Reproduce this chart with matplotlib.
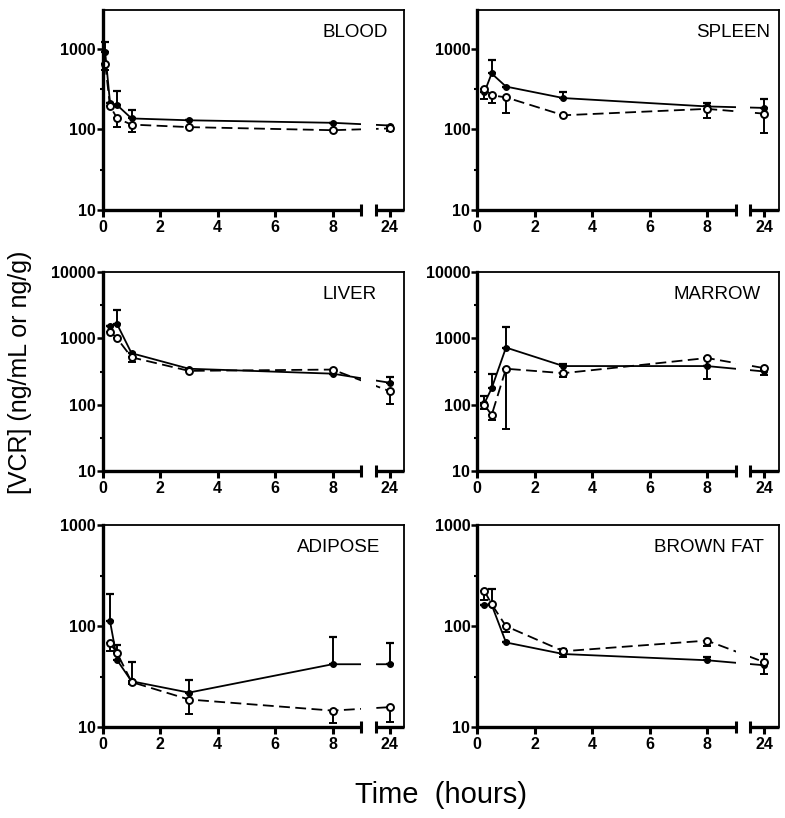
import numpy as np
import matplotlib
matplotlib.use('Agg')
import matplotlib.pyplot as plt
from matplotlib.ticker import FixedLocator, NullFormatter, FuncFormatter
import matplotlib.transforms as mtransforms

plt.rcParams['font.family'] = ['Liberation Sans', 'DejaVu Sans']

# sampling times (hours)
t_blood = [0.083, 0.25, 0.5, 1, 3, 8, 24]
t_tissue = [0.25, 0.5, 1, 3, 8, 24]

# filled circles (solid line) with upper SD limit, open circles (dashed) with lower SD limit
blood_solid = [900, 215, 200, 137, 130, 121, 112]
blood_solid_hi = [1200, 215, 300, 173, 130, 121, 112]
blood_open = [650, 195, 137, 115, 107, 98, 103]
blood_open_lo = [540, 195, 108, 92, 107, 98, 97]

spleen_solid = [290, 494, 340, 245, 193, 185]
spleen_solid_hi = [290, 730, 340, 290, 215, 240]
spleen_open = [320, 265, 250, 150, 180, 157]
spleen_open_lo = [240, 215, 160, 150, 140, 90]

liver_solid = [1540, 1630, 600, 350, 295, 215]
liver_solid_hi = [1540, 2720, 600, 350, 295, 263]
liver_open = [1270, 1000, 520, 325, 340, 160]
liver_open_lo = [1270, 1000, 440, 325, 340, 103]

marrow_solid = [106, 177, 730, 384, 384, 318]
marrow_solid_hi = [137, 293, 1470, 415, 384, 330]
marrow_open = [100, 70, 350, 300, 508, 357]
marrow_open_lo = [86, 59, 43, 260, 246, 277]

adipose_solid = [112, 46, 28.5, 22, 42, 42]
adipose_solid_hi = [210, 65, 44, 29, 78, 68]
adipose_open = [68, 54, 28, 18.8, 14.6, 15.8]
adipose_open_lo = [57, 54, 27, 13.5, 11, 11.2]

brown_solid = [163, 163, 69, 53, 46, 41]
brown_solid_hi = [163, 235, 69, 60, 50, 53]
brown_open = [223, 165, 100, 56.5, 72, 44]
brown_open_lo = [180, 165, 87, 50, 63, 34]

tissues = ['BLOOD', 'SPLEEN', 'LIVER', 'MARROW', 'ADIPOSE', 'BROWN FAT']
y_top = [3000, 3000, 10000, 10000, 1000, 1000]

panels = [
    (t_blood, blood_solid, blood_solid_hi, blood_open, blood_open_lo),
    (t_tissue, spleen_solid, spleen_solid_hi, spleen_open, spleen_open_lo),
    (t_tissue, liver_solid, liver_solid_hi, liver_open, liver_open_lo),
    (t_tissue, marrow_solid, marrow_solid_hi, marrow_open, marrow_open_lo),
    (t_tissue, adipose_solid, adipose_solid_hi, adipose_open, adipose_open_lo),
    (t_tissue, brown_solid, brown_solid_hi, brown_open, brown_open_lo),
]


# broken time axis: 0-9 h linear, gap, then 23-25 h squeezed into one unit
def fwd(x):
    x = np.asarray(x, float)
    return np.where(x <= 9, x, np.where(x <= 23, 9 + (x - 9) / 28.0, 9.5 + (x - 23) * 0.5))


def inv(u):
    u = np.asarray(u, float)
    return np.where(u <= 9, u, np.where(u <= 9.5, 9 + (u - 9) * 28.0, 23 + (u - 9.5) * 2.0))


fig = plt.figure(figsize=(7.85, 8.18), dpi=100)

lefts = [0.131, 0.608]
bottoms = [0.743, 0.424, 0.111]
heights = [0.2445, 0.2433, 0.247]
width = 0.384
label_x = [0.947, 0.97, 0.907, 0.94, 0.92, 0.95]

for i, (name, (t, s, s_hi, o, o_lo)) in enumerate(zip(tissues, panels)):
    row, col = divmod(i, 2)
    ax = fig.add_axes([lefts[col], bottoms[row], width, heights[row]])
    ax.set_xscale('function', functions=(fwd, inv))
    ax.set_yscale('log')

    s = np.array(s)
    o = np.array(o)
    ax.errorbar(t, s, yerr=[np.zeros_like(s), np.array(s_hi) - s], color='k', lw=1.3,
                marker='o', ms=4, mfc='k', mec='k', capsize=3, elinewidth=1.4,
                capthick=1.6, clip_on=False, zorder=2)
    ax.errorbar(t, o, yerr=[o - np.array(o_lo), np.zeros_like(o)], color='k', lw=1.3,
                ls=(0, (6, 3)), marker='o', ms=5, mfc='white', mec='k', mew=1.4,
                capsize=3, elinewidth=1.4, capthick=1.6, clip_on=False, zorder=2)

    ax.set_xlim(0, 25)
    ax.set_ylim(10, y_top[i])

    # gap of the broken axis
    ax.axvspan(9, 23, color='white', lw=0, zorder=2.2)
    trans = mtransforms.blended_transform_factory(ax.transData, ax.transAxes)
    for x0, x1 in [(0, 9), (23, 25)]:
        ax.plot([x0, x1], [0, 0], color='k', lw=2.4, transform=trans,
                clip_on=False, zorder=3, solid_capstyle='butt')
    ax.plot([9, 23], [0, 0], ls='none', marker='|', ms=8, mew=2.2, color='k',
            transform=trans, clip_on=False, zorder=3)

    ax.spines['bottom'].set_visible(False)
    ax.spines['left'].set_linewidth(2.4)
    ax.spines['top'].set_linewidth(1.3)
    ax.spines['right'].set_linewidth(1.3)

    ax.xaxis.set_major_locator(FixedLocator([0, 2, 4, 6, 8, 24]))
    ax.xaxis.set_minor_locator(FixedLocator([]))
    ax.xaxis.set_major_formatter(FuncFormatter(lambda v, p: '%d' % round(v)))
    decades = [d for d in [10, 100, 1000, 10000] if d <= y_top[i]]
    ax.yaxis.set_major_locator(FixedLocator(decades))
    ax.yaxis.set_major_formatter(FuncFormatter(lambda v, p: '%d' % round(v)))
    ax.yaxis.set_minor_locator(FixedLocator([d * 10 ** 0.5 for d in decades]))
    ax.yaxis.set_minor_formatter(NullFormatter())

    ax.tick_params(axis='x', direction='out', length=5, width=2.2, pad=2, labelsize=11.5)
    ax.tick_params(axis='y', which='major', direction='out', length=4, width=1.8,
                   pad=1, labelsize=11.5)
    ax.tick_params(axis='y', which='minor', direction='out', length=2.5, width=1.5)
    for lab in ax.get_xticklabels() + ax.get_yticklabels():
        lab.set_fontweight('bold')

    ax.text(label_x[i], 0.89, name, transform=ax.transAxes, ha='right', va='center',
            fontsize=13.5)

fig.text(0.026, 0.545, '[VCR] (ng/mL or ng/g)', rotation=90, ha='center', va='center',
         fontsize=18)
fig.text(0.562, 0.028, 'Time  (hours)', ha='center', va='center', fontsize=21)

fig.savefig('out.png', dpi=100)
